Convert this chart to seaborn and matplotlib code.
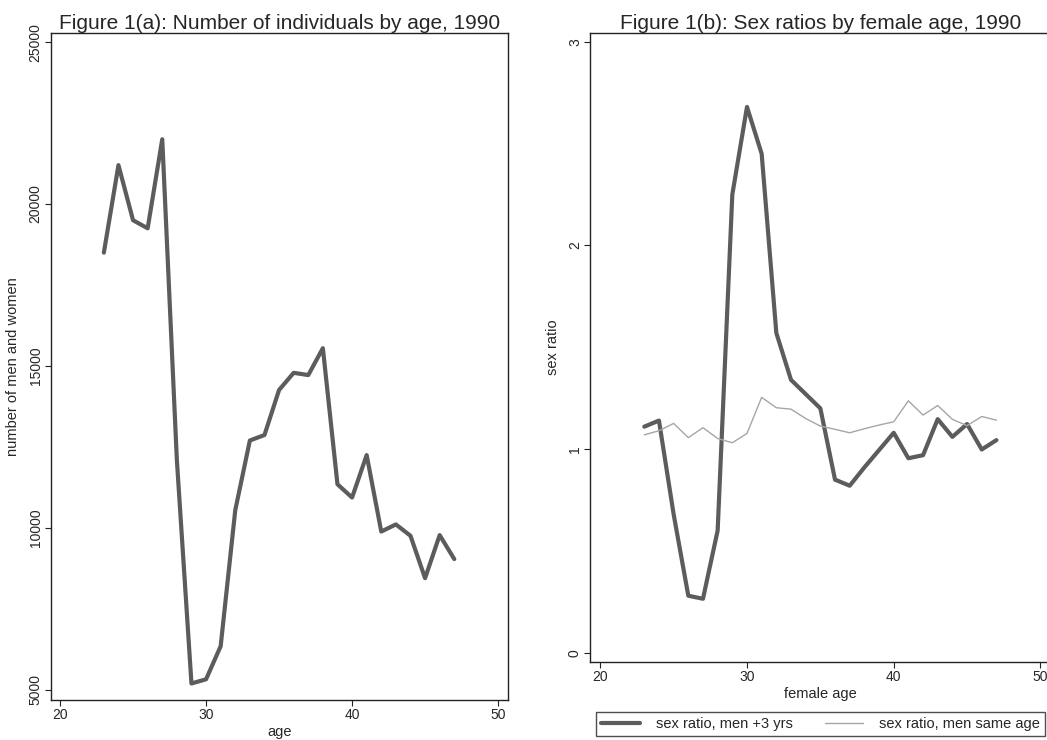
import matplotlib
matplotlib.use("Agg")
import matplotlib.pyplot as plt
import seaborn as sns
import pandas as pd

# ---- data ----
ages = list(range(23, 48))
count_total = [18500, 21200, 19500, 19250, 22000, 12100, 5200, 5330, 6350, 10550,
               12700, 12870, 14260, 14790, 14720, 15550, 11350, 10940, 12250, 9890,
               10110, 9760, 8450, 9780, 9040]
ratio_plus3 = [1.11, 1.14, 0.68, 0.28, 0.265, 0.60, 2.25, 2.68, 2.45, 1.57,
               1.34, 1.27, 1.20, 0.85, 0.82, 0.91, 0.995, 1.08, 0.955, 0.97,
               1.147, 1.06, 1.123, 0.998, 1.044]
ratio_same = [1.07, 1.09, 1.126, 1.056, 1.105, 1.052, 1.031, 1.077, 1.254, 1.203,
              1.196, 1.15, 1.113, 1.097, 1.08, 1.10, 1.118, 1.134, 1.237, 1.167,
              1.214, 1.146, 1.115, 1.16, 1.142]
x_ticks = [20, 30, 40, 50]
y_ticks_a = [5000, 10000, 15000, 20000, 25000]
y_ticks_b = [0, 1, 2, 3]
title_a = "Figure 1(a): Number of individuals by age, 1990"
title_b = "Figure 1(b): Sex ratios by female age, 1990"
label_plus3 = "sex ratio, men +3 yrs"
label_same = "sex ratio, men same age"

df_a = pd.DataFrame({"age": ages, "n": count_total})
df_b = pd.DataFrame({"age": ages, "plus3": ratio_plus3, "same": ratio_same})

sns.set_theme(style="white")
plt.rcParams["font.family"] = ["Liberation Sans", "DejaVu Sans"]

DARK = "#5c5c5c"
LIGHT = "#a6a6a6"
SPINE = "#222222"

fig = plt.figure(figsize=(10.47, 7.40), dpi=100)
ax1 = fig.add_axes([51 / 1047, 1 - 700 / 740, (508 - 51) / 1047, (700 - 33) / 740])
ax2 = fig.add_axes([590.3 / 1047, 1 - 661.7 / 740, (1050.4 - 590.3) / 1047, (661.7 - 33) / 740])

sns.lineplot(data=df_a, x="age", y="n", ax=ax1, color=DARK, linewidth=3.0)
sns.lineplot(data=df_b, x="age", y="plus3", ax=ax2, color=DARK, linewidth=3.0,
             label=label_plus3, legend=False)
sns.lineplot(data=df_b, x="age", y="same", ax=ax2, color=LIGHT, linewidth=1.0,
             label=label_same, legend=False)

ax1.set_xlim(19.38, 50.68)
ax1.set_ylim(4690, 25280)
ax2.set_xlim(19.32, 50.68)
ax2.set_ylim(-0.044, 3.043)

for ax, yt in ((ax1, y_ticks_a), (ax2, y_ticks_b)):
    ax.set_xticks(x_ticks)
    ax.set_yticks(yt)
    ax.set_yticklabels([str(v) for v in yt], rotation=90, va="center")
    ax.tick_params(axis="both", which="major", direction="out", length=4, width=0.8,
                   color=SPINE, labelsize=10, pad=2, left=True, bottom=True)
    for sp in ax.spines.values():
        sp.set_color(SPINE)
        sp.set_linewidth(1.0)
# the right border of panel (b) falls outside the picture
ax2.spines["right"].set_visible(False)

ax1.set_title(title_a, fontsize=15, pad=3)
ax2.set_title(title_b, fontsize=15, pad=3)
ax1.set_xlabel("age", fontsize=10.5, labelpad=2)
ax1.set_ylabel("number of men and women", fontsize=10.5, labelpad=6)
ax2.set_xlabel("female age", fontsize=10.5, labelpad=2)
ax2.set_ylabel("sex ratio", fontsize=10.5, labelpad=6)

handles, labels = ax2.get_legend_handles_labels()
leg = fig.legend(handles, labels, loc="center", ncol=2,
                 bbox_to_anchor=(820.5 / 1047, 1 - 724 / 740),
                 fontsize=10.5, frameon=True, fancybox=False, edgecolor=SPINE,
                 handlelength=2.65, handletextpad=1.1, columnspacing=2.2,
                 borderpad=0.35)
leg.get_frame().set_linewidth(1.0)

fig.savefig("out.png", dpi=100)
